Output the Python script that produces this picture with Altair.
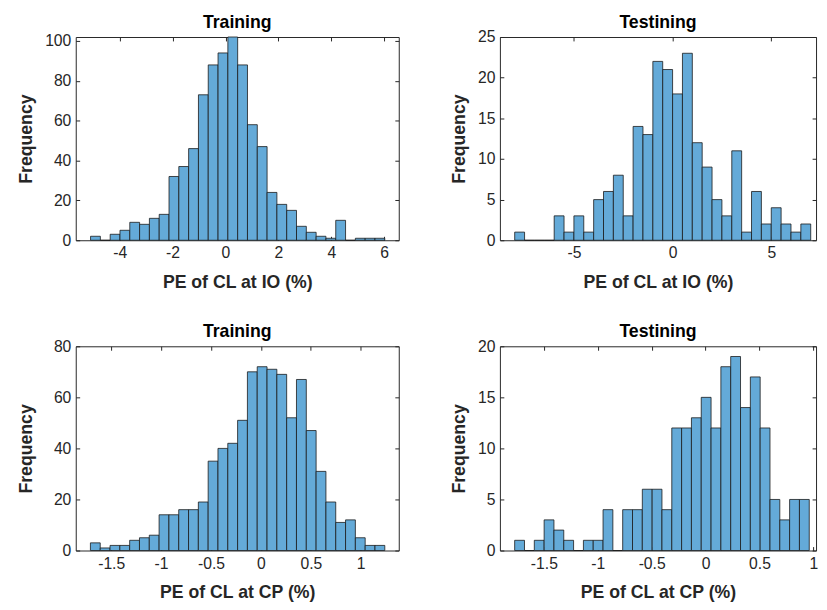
import altair as alt
import pandas as pd

# ---- data ----
# Panel 1: Training, PE of CL at IO
io_train_start = -5.10
io_train_width = 0.3707
io_train_counts = [2, 0, 3, 5, 9, 8, 11, 13, 32, 37, 46, 73, 88, 94, 102,
                   88, 58, 47, 24, 18, 15, 7, 4, 2, 1, 10, 0, 1, 1, 1]
# Panel 2: Testing, PE of CL at IO
io_test_start = -8.0
io_test_width = 0.5
io_test_counts = [1, 0, 0, 0, 3, 1, 3, 1, 5, 6, 8, 3, 14, 13, 22,
                  21, 18, 23, 12, 9, 5, 3, 11, 1, 6, 2, 4, 2, 1, 2]
# Panel 3: Training, PE of CL at CP
cp_train_start = -1.708
cp_train_width = 0.0983
cp_train_counts = [3, 1, 2, 2, 4, 5, 6, 14, 14, 16, 16, 19, 35, 40, 42,
                   51, 70, 72, 71, 69, 52, 67, 47, 31, 19, 11, 12, 5, 2, 2]
# Panel 4: Testing, PE of CL at CP
cp_test_start = -1.771
cp_test_width = 0.0911
cp_test_counts = [1, 0, 1, 3, 2, 1, 0, 1, 1, 4, 0, 4, 4, 6, 6,
                  4, 12, 12, 13, 15, 12, 18, 19, 14, 17, 12, 5, 3, 5, 5]

titles = ["Training", "Testining", "Training", "Testining"]
xtitles = ["PE of CL at IO (%)", "PE of CL at IO (%)",
           "PE of CL at CP (%)", "PE of CL at CP (%)"]

FONT = "Liberation Sans"
TXT = "#262626"
FILL = "#64AAD8"


def make_df(start, width, counts):
    rows = []
    for i, c in enumerate(counts):
        a = start + i * width
        rows.append({"x0": a, "x1": a + width, "n": c})
    return pd.DataFrame(rows)


def panel(df, xdom, ydom, xticks, yticks, title, xtitle, w, h, ytx, toff):
    xs = alt.Scale(domain=xdom, nice=False, zero=False)
    ys = alt.Scale(domain=ydom, nice=False, zero=False)
    lab = "'' + datum.value"
    base = alt.Chart(df)
    bars = base.mark_rect(fill=FILL, stroke="#1a1a1a", strokeWidth=0.8).encode(
        x=alt.X("x0:Q", scale=xs, axis=alt.Axis(
            orient="bottom", values=xticks, title=xtitle, ticks=False, domain=False,
            grid=False, labelExpr=lab, labelFont=FONT, labelFontSize=16,
            labelColor=TXT, labelPadding=5, titleFont=FONT, titleFontSize=18,
            titleFontWeight="bold", titleColor=TXT, titlePadding=13,
            labelFlush=False)),
        x2="x1:Q",
        y=alt.Y("n:Q", scale=ys, axis=alt.Axis(
            orient="left", values=yticks, title="Frequency", ticks=False, domain=False,
            grid=False, labelExpr=lab, labelFont=FONT, labelFontSize=16,
            labelColor=TXT, labelPadding=5, titleFont=FONT, titleFontSize=18,
            titleFontWeight="bold", titleColor=TXT, titleX=ytx,
            labelFlush=False)),
        y2=alt.datum(0),
    )
    tick_ax = dict(labels=False, domain=False, title=None, grid=False,
                   ticks=True, tickSize=4, offset=-4, tickColor=TXT, tickWidth=1)
    t1 = base.mark_point(opacity=0, size=0).encode(
        x=alt.X("x0:Q", scale=xs, axis=alt.Axis(orient="bottom", values=xticks, **tick_ax)),
        y=alt.Y("n:Q", scale=ys, axis=alt.Axis(orient="left", values=yticks, **tick_ax)),
    )
    t2 = base.mark_point(opacity=0, size=0).encode(
        x=alt.X("x0:Q", scale=xs, axis=alt.Axis(orient="top", values=xticks, **tick_ax)),
        y=alt.Y("n:Q", scale=ys, axis=alt.Axis(orient="right", values=yticks, **tick_ax)),
    )
    return alt.layer(bars, t1, t2).resolve_axis(x="independent", y="independent").properties(
        width=w, height=h,
        title=alt.TitleParams(title, font=FONT, fontSize=18, fontWeight="bold",
                              color="#000000", offset=toff, anchor="middle"))


p1 = panel(make_df(io_train_start, io_train_width, io_train_counts),
           [-5.66, 6.55], [0, 102], [-4, -2, 0, 2, 4, 6], [0, 20, 40, 60, 80, 100],
           titles[0], xtitles[0], 329, 207, -41, 1)
p2 = panel(make_df(io_test_start, io_test_width, io_test_counts),
           [-8.75, 7.27], [0, 25], [-5, 0, 5], [0, 5, 10, 15, 20, 25],
           titles[1], xtitles[1], 322, 207, -32, -3)
p3 = panel(make_df(cp_train_start, cp_train_width, cp_train_counts),
           [-1.855, 1.381], [0, 80], [-1.5, -1, -0.5, 0, 0.5, 1], [0, 20, 40, 60, 80],
           titles[2], xtitles[2], 329, 208, -41, -3)
p4 = panel(make_df(cp_test_start, cp_test_width, cp_test_counts),
           [-1.908, 1.025], [0, 20], [-1.5, -1, -0.5, 0, 0.5, 1], [0, 5, 10, 15, 20],
           titles[3], xtitles[3], 322, 208, -32, -3)

chart = alt.vconcat(
    alt.hconcat(p1, p2, spacing=103, bounds="flush"),
    alt.hconcat(p3, p4, spacing=103, bounds="flush"),
    spacing=31,
).properties(
    padding={"left": 9, "top": 0, "right": 0, "bottom": 0},
    background="white",
).configure_view(stroke=TXT, strokeWidth=1)

chart.save("out.html", embed_options={"renderer": "svg", "actions": False})
